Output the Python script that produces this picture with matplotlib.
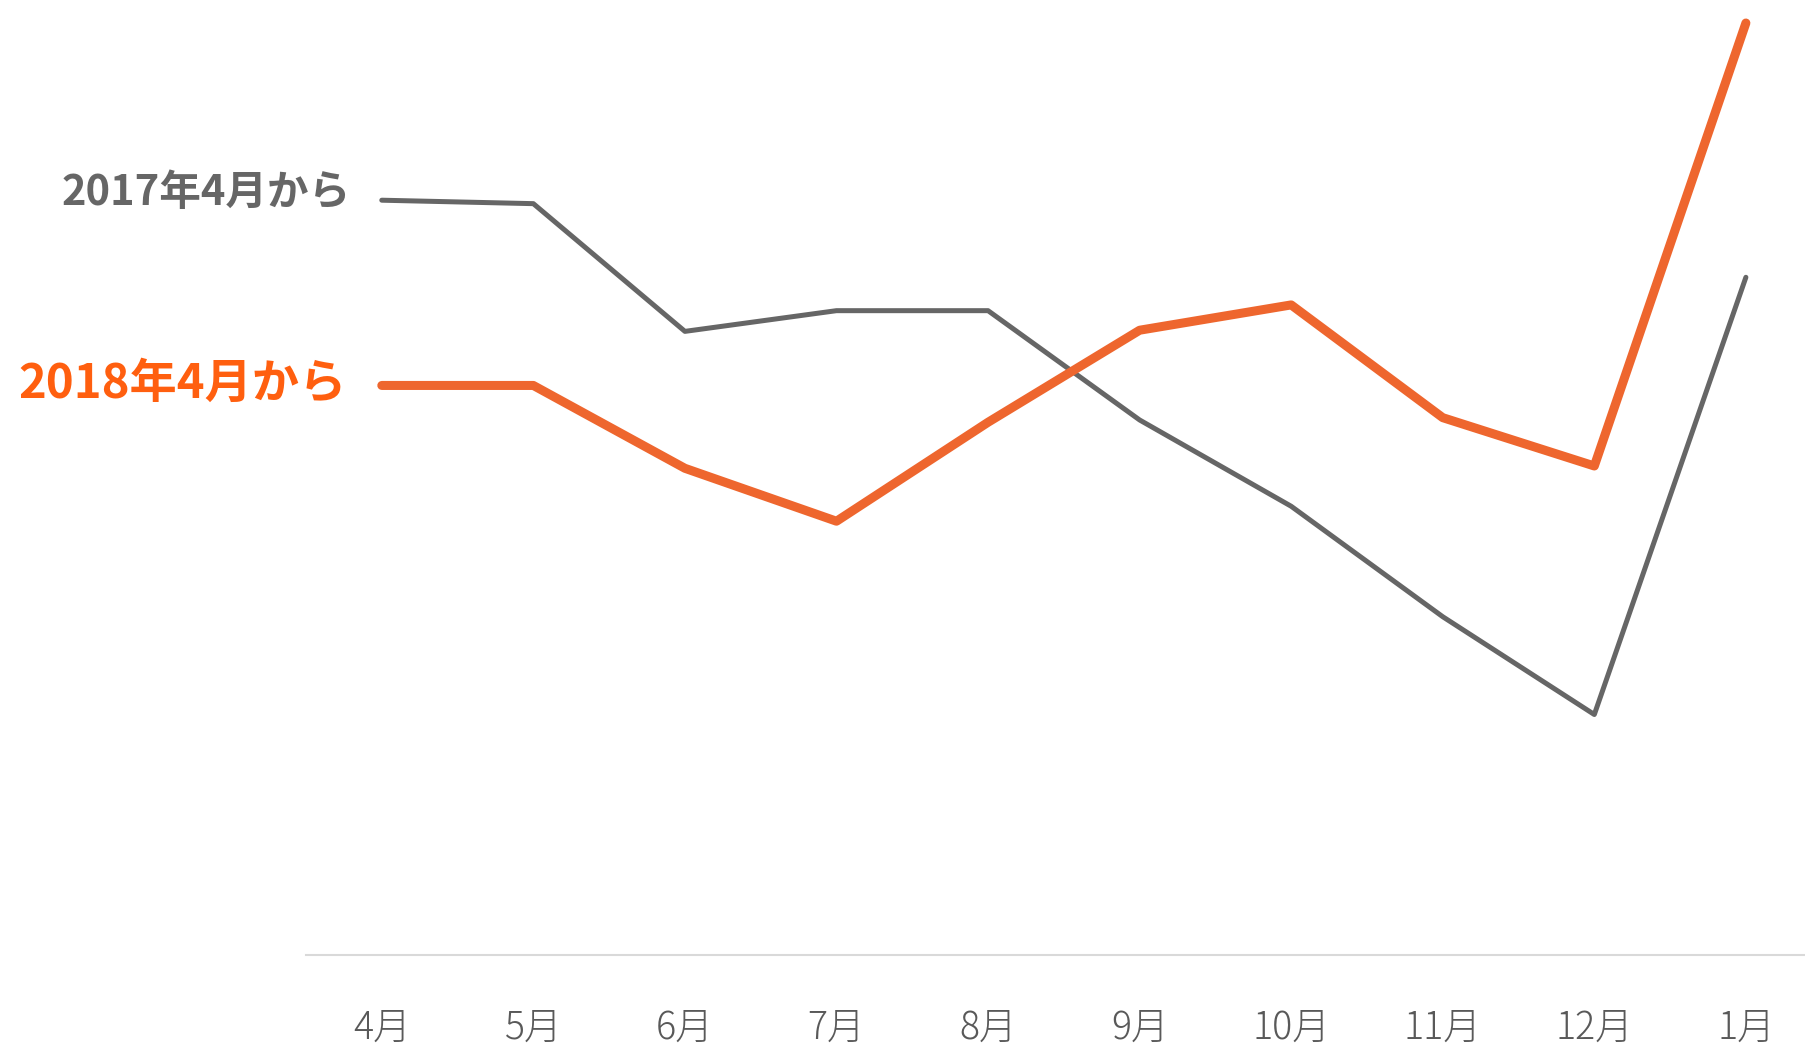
import matplotlib
matplotlib.use("Agg")
import matplotlib.pyplot as plt

plt.rcParams['font.family'] = ['Noto Sans CJK JP', 'DejaVu Sans']

months = ["4月", "5月", "6月", "7月", "8月", "9月", "10月", "11月", "12月", "1月"]
from_2017 = [65.6, 65.3, 54.2, 56.0, 56.0, 46.5, 39.0, 29.4, 20.9, 58.9]
from_2018 = [49.5, 49.5, 42.3, 37.7, 46.3, 54.3, 56.5, 46.7, 42.5, 81.0]

gray = "#666666"
orange = "#EE662E"

fig = plt.figure(figsize=(18.05, 10.54), dpi=100)
ax = fig.add_axes([306 / 1805, 99 / 1054, 1 - 306 / 1805, 955 / 1054])

x = range(len(months))
ax.plot(x, from_2017, color=gray, lw=3.6, solid_capstyle="round", solid_joinstyle="round")
ax.plot(x, from_2018, color=orange, lw=6.5, solid_capstyle="round", solid_joinstyle="round")

ax.set_xlim(-0.5, 9.39)
ax.set_ylim(0, 83)

for s in ["top", "right", "left"]:
    ax.spines[s].set_visible(False)
ax.spines["bottom"].set_color("#D9D9D9")
ax.spines["bottom"].set_linewidth(1.5)
ax.set_yticks([])
ax.set_xticks(list(x))
ax.set_xticklabels(months, fontsize=27, color="#595959", fontweight="light")
ax.tick_params(axis="x", length=0, pad=38)

# series labels on the left
ax.annotate("2017年4月から", xy=(0, from_2017[0]), xytext=(-22, 5),
            textcoords="offset points", ha="right", va="center",
            fontsize=30, fontweight="bold", color=gray, annotation_clip=False)
ax.annotate("2018年4月から", xy=(0, from_2018[0]), xytext=(-25, 1),
            textcoords="offset points", ha="right", va="center",
            fontsize=34, fontweight="bold", color="#FF5F0F", annotation_clip=False)

fig.savefig("out.png", dpi=100)
